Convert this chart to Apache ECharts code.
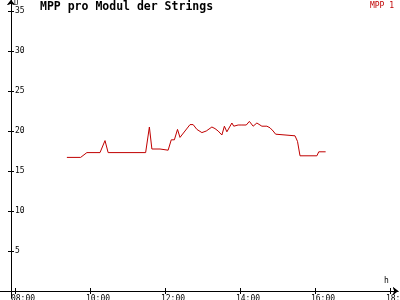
<!DOCTYPE html>
<html><head><meta charset="utf-8">
<script src="https://cdn.jsdelivr.net/npm/echarts@6/dist/echarts.min.js"></script>
<style>html,body{margin:0;padding:0;background:#fff}#c{width:400px;height:300px}</style>
</head><body><div id="c"></div>
<script>
var times = ["09:23","09:45","09:55","10:16","10:19","10:24","10:29","11:29","11:35","11:39","11:52","11:55","12:05","12:10","12:15","12:20","12:24","12:40","12:45","12:51","12:59","13:06","13:15","13:20","13:25","13:31","13:35","13:39","13:47","13:50","13:57","14:03","14:06","14:10","14:15","14:21","14:27","14:29","14:35","14:43","14:48","14:53","14:57","15:00","15:28","15:32","15:36","16:03","16:06","16:17"];
var values = [16.7,16.7,17.3,17.3,17.3,18.8,17.3,17.3,20.5,17.75,17.75,17.6,17.6,18.9,18.9,20.2,19.2,20.8,20.8,20.2,19.8,20.0,20.5,20.3,20.0,19.5,20.6,19.9,21.0,20.6,20.75,20.75,20.5,20.75,21.2,20.6,21.0,20.8,20.6,20.6,20.4,20.0,19.6,19.4,19.4,18.7,16.9,16.9,17.4,17.4];
var xTickLabels = ["08:00","10:00","12:00","14:00","16:00","18:00"];
var yTickValues = [5,10,15,20,25,30,35];
var seriesName = "MPP 1";
var titleText = "MPP pro Modul der Strings";

function toMin(s){var p=s.split(":");return (+p[0])*60+(+p[1]);}
var xTicks = xTickLabels.map(toMin);
var LBL_SHIFT = 12.8; // minutes, label centre offset right of tick
var xLabelVals = xTicks.map(function(v){return v+LBL_SHIFT;});
var data = times.map(function(t,i){return [toMin(t), values[i]];});
var FONT = "DejaVu Sans Mono";
var RED = "#c00000";

function xAxisCfg(inside, showLabel){
  return {
    type:'value', position:'bottom', min:456, max:1092.8,
    axisLine:{show:true, onZero:true, symbol:['none','arrow'], symbolSize:[6,5], lineStyle:{color:'#000',width:1}},
    axisTick:{show:true, inside:inside, length:3, customValues:xTicks, lineStyle:{color:'#000'}},
    axisLabel:{show:showLabel, customValues:xLabelVals, margin:-3, verticalAlign:'top', color:'#000', fontFamily:FONT, fontSize:8,
      formatter:function(v){var m=Math.round(v-LBL_SHIFT);var h=Math.floor(m/60);var mm=m%60;return (h<10?'0':'')+h+':'+(mm<10?'0':'')+mm;}},
    splitLine:{show:false}
  };
}
function yAxisCfg(inside, showLabel){
  return {
    type:'value', position:'left', offset:-11, min:-0.875, max:36.375,
    axisLine:{show:true, onZero:false, symbol:['none','arrow'], symbolSize:[6,5], lineStyle:{color:'#000',width:1}},
    axisTick:{show:true, inside:inside, length:3, customValues:yTickValues, lineStyle:{color:'#000'}},
    axisLabel:{show:showLabel, inside:true, margin:4, customValues:yTickValues, color:'#000', fontFamily:FONT, fontSize:8},
    splitLine:{show:false}
  };
}

var chart = echarts.init(document.getElementById('c'), null, {renderer:'canvas'});
chart.setOption({
  animation:false,
  backgroundColor:'#fff',
  title:{text:titleText, left:40, top:1, padding:0, textStyle:{fontFamily:FONT, fontWeight:'bold', fontSize:11.5, color:'#000'}},
  legend:{data:[seriesName], right:6, top:2, padding:0, icon:'none', itemWidth:0, itemHeight:8, itemGap:0,
    textStyle:{color:RED, fontFamily:FONT, fontSize:8, padding:0}},
  grid:{left:0, right:2, top:0, bottom:2, containLabel:false, outerBoundsMode:'none'},
  xAxis:[xAxisCfg(false,true), xAxisCfg(true,false)],
  yAxis:[yAxisCfg(false,true), yAxisCfg(true,false)],
  graphic:[
    {type:'text', left:14, top:0, z:100, style:{text:'U', font:'7px "DejaVu Sans Mono"', fill:'#000'}},
    {type:'text', left:384, top:277, style:{text:'h', font:'8px "DejaVu Sans Mono"', fill:'#000'}}
  ],
  series:[{name:seriesName, type:'line', data:data, xAxisIndex:0, yAxisIndex:0, showSymbol:false, symbol:'none',
    lineStyle:{color:RED, width:1}, itemStyle:{color:RED}}]
});
</script></body></html>
